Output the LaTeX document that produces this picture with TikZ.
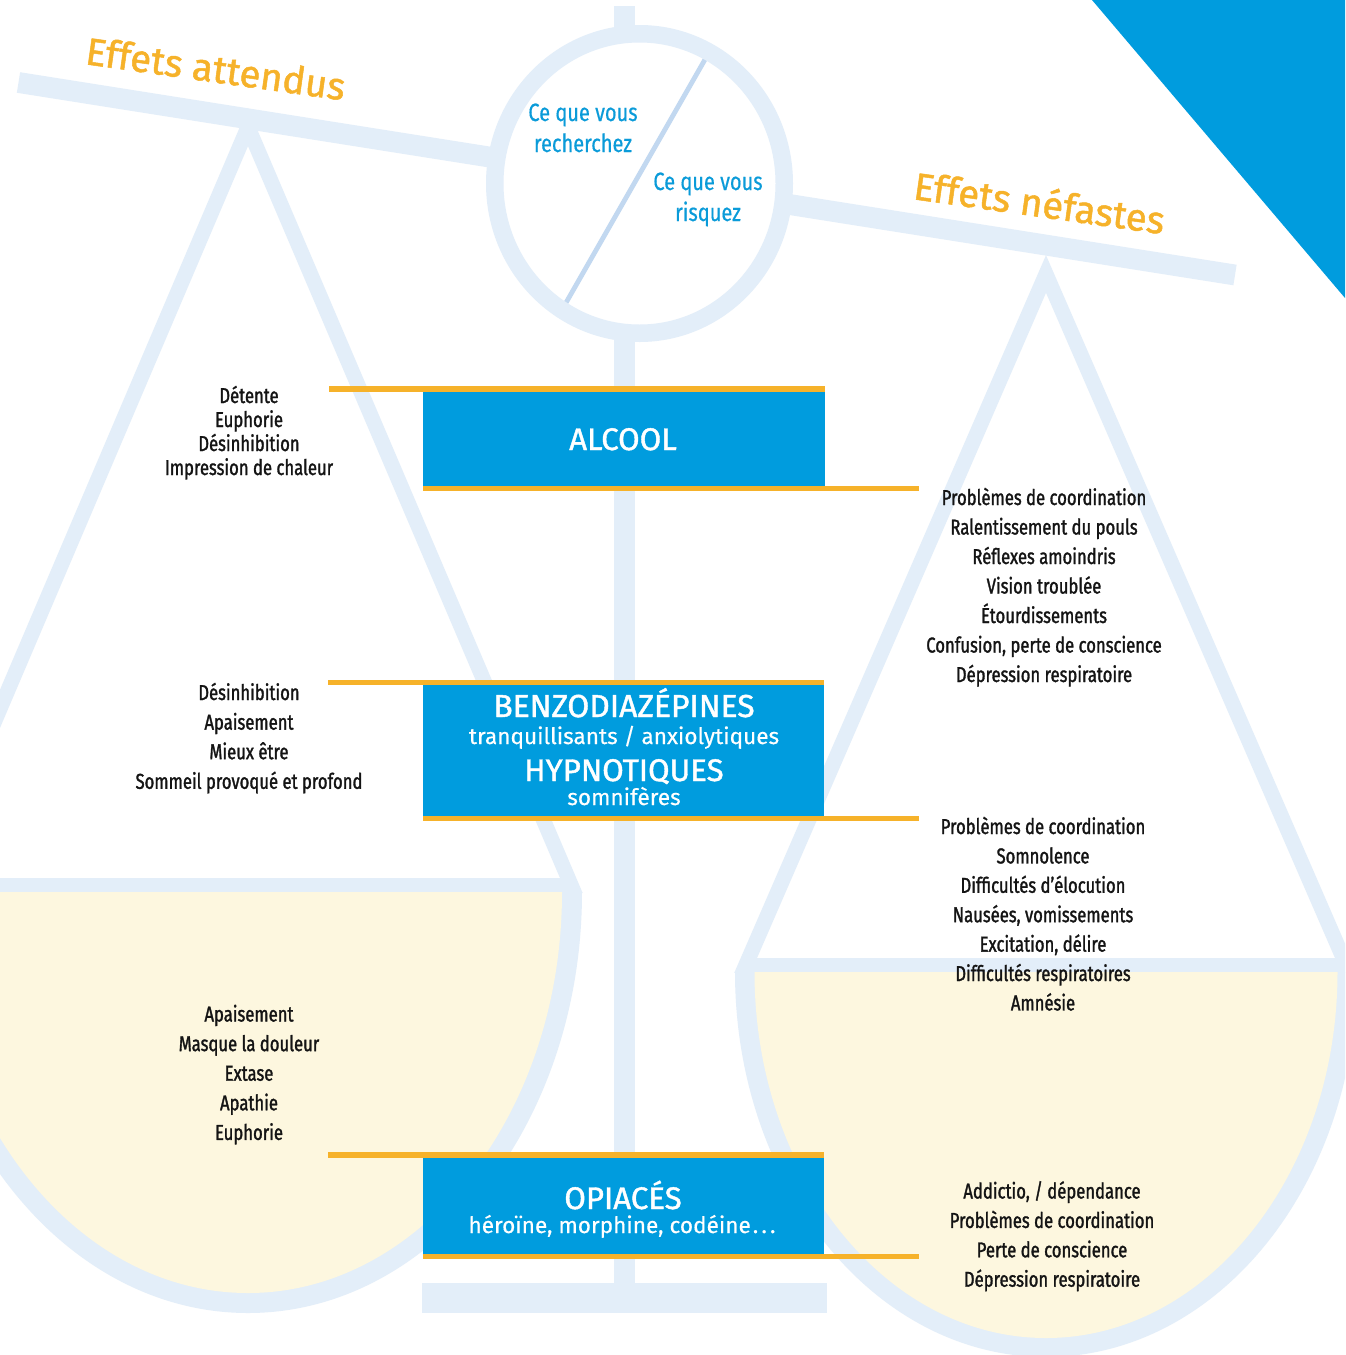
\documentclass[tikz,border=0pt]{standalone}
\usepackage{fontspec}
\setmainfont{Fira Sans}
\newfontfamily\fmed[FakeBold=1.3]{Fira Sans}
\newfontfamily\freg[FakeBold=0.4]{Fira Sans}
\newfontfamily\fcond[FakeStretch=0.775,FakeBold=1.4]{Fira Sans}
\newfontfamily\fcondr[FakeStretch=0.8,FakeBold=0.5]{Fira Sans}
\definecolor{lb}{RGB}{227,238,249}
\definecolor{cream}{RGB}{253,247,223}
\definecolor{boxblue}{RGB}{0,156,222}
\definecolor{orng}{RGB}{246,178,42}
\definecolor{txtblue}{RGB}{10,155,217}
\definecolor{diagc}{RGB}{194,216,240}
\begin{document}
\begin{tikzpicture}[x=0.5pt,y=-0.5pt,
  lst/.style={font={\fcond\fontsize{10.75pt}{12pt}\selectfont}, text=black!92, inner sep=0pt, anchor=base},
  circtxt/.style={font={\fcondr\fontsize{12.5pt}{14pt}\selectfont}, text=txtblue, inner sep=0pt, anchor=base},
  titletxt/.style={font={\fmed\fontsize{19.1pt}{22pt}\selectfont}, text=orng, inner sep=0pt, anchor=base west, rotate=-8},
  boxn/.style={fill=boxblue, inner sep=0pt, outer sep=0pt, draw=none},
  bigtxt/.style={font={\fmed\fontsize{15.6pt}{18pt}\selectfont}, text=white, inner sep=0pt, anchor=base},
  smalltxt/.style={font={\freg\fontsize{11.3pt}{13pt}\selectfont}, text=white, inner sep=0pt, anchor=base},
  pan/.style={lb, line width=7.5pt, line join=miter}]
\clip (0,0) rectangle (1345,1355);
\fill[white] (0,0) rectangle (1345,1355);
% corner triangle
\fill[boxblue] (1092,0) -- (1345,0) -- (1345,298) -- cycle;
% left pan
\begin{scope}
  \clip (-100,0) rectangle (1345,892);
  \draw[pan] (-81.5,900) -- (248,127) -- (577.5,900);
\end{scope}
\fill[lb] (0,878) rectangle (570,892);
\fill[lb] (582,892) arc[start angle=0,end angle=180,x radius=334,y radius=421] -- cycle;
\fill[cream] (562,892) arc[start angle=0,end angle=180,x radius=314,y radius=401] -- cycle;
% right pan
\begin{scope}
  \clip (0,0) rectangle (1400,972);
  \draw[pan] (739.3,980) -- (1046,274) -- (1352.7,980);
\end{scope}
\fill[lb] (745,958) rectangle (1345,972);
\fill[lb] (1357,972) arc[start angle=0,end angle=180,x radius=311,y radius=385] -- cycle;
\fill[cream] (1337.5,972) arc[start angle=0,end angle=180,x radius=291.5,y radius=366] -- cycle;
% beam
\draw[lb, line width=10.4pt] (18.5,82.5) -- (1235,275);
% post, stub, base
\fill[lb] (614,6) rectangle (635,60);
\fill[lb] (614,320) rectangle (635,1290);
\fill[lb] (422,1283) rectangle (827,1313);
% circle
\fill[white] (639.5,183.5) ellipse [x radius=144.75, y radius=149.75];
\draw[diagc, line width=2.4pt] (707,56) -- (563,308);
\draw[lb, line width=8.75pt] (639.5,183.5) ellipse [x radius=144.75, y radius=149.75];
% titles
\node[titletxt] (tatt) at (84,64) {Effets attendus};
\node[titletxt] (tnef) at (912,199) {Effets néfastes};
% circle texts
\node[circtxt] (c1) at (583,121) {Ce que vous};
\node[circtxt] (c2) at (583,152) {recherchez};
\node[circtxt] (c3) at (708,190) {Ce que vous};
\node[circtxt] (c4) at (708,221) {risquez};
% boxes
\node[boxn, minimum width=201pt, minimum height=47.25pt] (alcool) at (624,438.75) {};
\fill[orng] (alcool.north east) rectangle ++(-496,-5.5);
\fill[orng] (alcool.south west) rectangle ++(496,5);
\node[bigtxt] (alcT) at (623,450) {ALCOOL};

\node[boxn, minimum width=200.5pt, minimum height=65.35pt] (benzo) at (623.5,750.35) {};
\fill[orng] (benzo.north east) rectangle ++(-496,-5);
\fill[orng] (benzo.south west) rectangle ++(496,4.8);
\node[bigtxt, font={\fmed\fontsize{15.9pt}{18pt}\selectfont}] (bzT) at (624,717) {BENZODIAZÉPINES};
\node[smalltxt] (bzS) at (624,744) {tranquillisants / anxiolytiques};
\node[bigtxt] (hyT) at (624,781) {HYPNOTIQUES};
\node[smalltxt] (hyS) at (624,805) {somnifères};

\node[boxn, minimum width=200.5pt, minimum height=48.3pt] (opi) at (623.5,1206) {};
\fill[orng] (opi.north east) rectangle ++(-496,-5.4);
\fill[orng] (opi.south west) rectangle ++(496,5);
\node[bigtxt] (opT) at (623,1209) {OPIACÉS};
\node[smalltxt] (opS) at (622,1233) {héroïne, morphine, codéine\kern1pt.\kern1.6pt.\kern1.6pt.};
% lists
\foreach \t [count=\i] in {Détente, Euphorie, Désinhibition, Impression de chaleur}
  \node[lst] (la\i) at (249,403+24*\i-24) {\t};
\foreach \t [count=\i] in {Désinhibition, Apaisement, Mieux être, Sommeil provoqué et profond}
  \node[lst] (lb\i) at (249,700+29.6*\i-29.6) {\t};
\foreach \t [count=\i] in {Apaisement, Masque la douleur, Extase, Apathie, Euphorie}
  \node[lst] (lc\i) at (249,1021.5+29.6*\i-29.6) {\t};
\foreach \t [count=\i] in {Problèmes de coordination, Ralentissement du pouls, Réflexes amoindris, Vision troublée, Étourdissements, {Confusion, perte de conscience}, Dépression respiratoire}
  \node[lst] (ra\i) at (1044,505+29.5*\i-29.5) {\t};
\foreach \t [count=\i] in {Problèmes de coordination, Somnolence, Difficultés d’élocution, {Nausées, vomissements}, {Excitation, délire}, Difficultés respiratoires, Amnésie}
  \node[lst] (rb\i) at (1043,834+29.4*\i-29.4) {\t};
\foreach \t [count=\i] in {{Addictio, / dépendance}, Problèmes de coordination, Perte de conscience, Dépression respiratoire}
  \node[lst] (rc\i) at (1052,1198.5+29.4*\i-29.4) {\t};
\end{tikzpicture}
\end{document}
